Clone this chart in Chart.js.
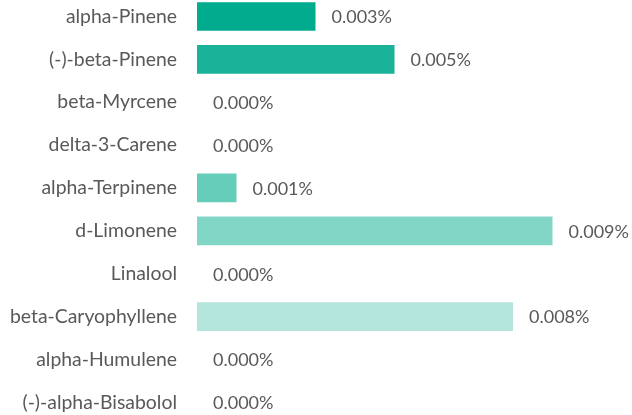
<!DOCTYPE html>
<html>
<head>
<meta charset="utf-8">
<script src="https://cdn.jsdelivr.net/npm/chart.js@4"></script>
<style>
    html, body { margin: 0; padding: 0; background: #fff; }
    #wrap { width: 632px; height: 415px; position: relative; }
</style>
</head>
<body>
<div id="wrap"><canvas id="chart"></canvas></div>
<script>
const terpenes = ['alpha-Pinene', '(-)-beta-Pinene', 'beta-Myrcene', 'delta-3-Carene', 'alpha-Terpinene', 'd-Limonene', 'Linalool', 'beta-Caryophyllene', 'alpha-Humulene', '(-)-alpha-Bisabolol']
const percents = [0.0030, 0.0050, 0.0000, 0.0000, 0.0010, 0.0090, 0.0000, 0.0080, 0.0000, 0.0000]
const barColors = ['#00AB8E', '#1AB39A', '#33BCA5', '#4DC4AF', '#66CDBB', '#82D6C6', '#99DDD1', '#B3E5DD', '#CCEEE8', '#E6F7F4']

const fontFamily = 'Lato, "Open Sans", sans-serif'
const textColor = '#595959'

// draws the "0.003%" labels to the right of each bar
const valueLabels = {
    id: 'valueLabels',
    afterDatasetsDraw(chart) {
        const ctx = chart.ctx
        const meta = chart.getDatasetMeta(0)
        ctx.save()
        ctx.font = `18px ${fontFamily}`
        ctx.fillStyle = textColor
        ctx.textAlign = 'left'
        ctx.textBaseline = 'middle'
        meta.data.forEach((bar, i) => {
            ctx.fillText(percents[i].toFixed(3) + '%', bar.x + 16, bar.y + 1)
        })
        ctx.restore()
    }
}

const ctx = document.getElementById('chart').getContext('2d')
const chart = new Chart(ctx, {
    type: 'bar',
    data: {
        labels: terpenes,
        datasets: [{
            data: percents,
            backgroundColor: barColors,
            borderWidth: 0,
            barPercentage: 0.67,
            categoryPercentage: 1,
            clip: false
        }]
    },
    options: {
        indexAxis: 'y',
        responsive: true,
        maintainAspectRatio: false,
        animation: false,
        layout: {
            padding: { top: 16.5, bottom: 12.7, left: 0, right: 40 }
        },
        plugins: {
            legend: { display: false },
            tooltip: { enabled: false }
        },
        scales: {
            x: {
                display: false,
                min: 0,
                max: 0.01
            },
            y: {
                offset: false,
                grid: { display: false },
                border: { display: false },
                ticks: {
                    padding: 12,
                    color: textColor,
                    font: { family: fontFamily, size: 19.4 }
                },
                afterFit(scale) {
                    scale.width = 197
                    scale.paddingTop = 0
                    scale.paddingBottom = 0
                }
            }
        }
    },
    plugins: [valueLabels]
})
</script>
</body>
</html>
